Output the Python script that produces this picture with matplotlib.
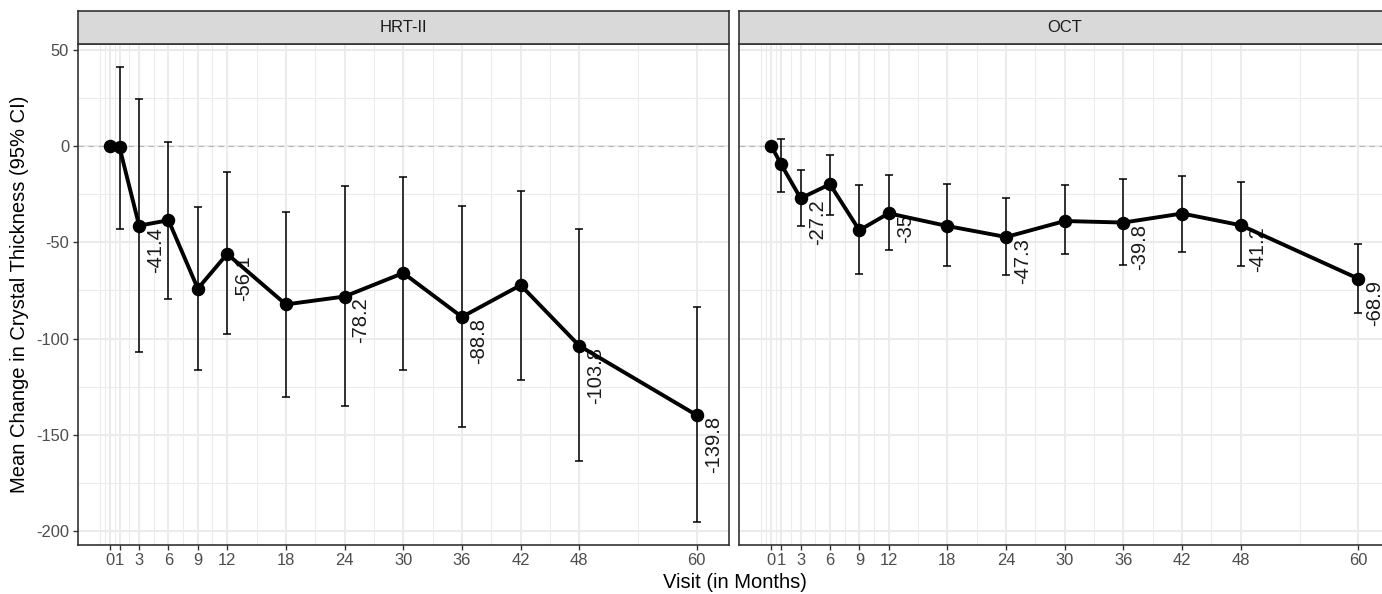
import matplotlib
matplotlib.use("Agg")
import matplotlib.pyplot as plt
import numpy as np

plt.rcParams['font.family'] = ['Liberation Sans', 'DejaVu Sans']
plt.rcParams['axes.unicode_minus'] = False

# Visits (months) and mean change with 95% CI per device
months = [0, 1, 3, 6, 9, 12, 18, 24, 30, 36, 42, 48, 60]
label_months = [3, 12, 24, 36, 48, 60]

hrt_mean = [0, -0.8, -41.4, -38.6, -74.1, -56.1, -82.3, -78.2, -66.0, -88.8, -72.3, -103.8, -139.8]
hrt_lower = [0, -42.9, -107.1, -79.7, -116.2, -97.9, -130.4, -134.8, -116.2, -145.7, -121.7, -163.5, -195.4]
hrt_upper = [0, 41.1, 24.6, 2.1, -31.7, -13.5, -34.3, -20.9, -16.1, -31.0, -23.3, -43.0, -83.7]

oct_mean = [0, -9.5, -27.2, -19.9, -43.8, -35.0, -41.6, -47.3, -39.0, -39.8, -35.1, -41.2, -68.9]
oct_lower = [0, -23.9, -41.7, -35.7, -66.3, -54.2, -62.5, -67.2, -56.3, -62.0, -55.1, -62.5, -86.6]
oct_upper = [0, 3.8, -12.6, -4.8, -20.4, -15.2, -19.6, -27.3, -20.4, -17.0, -15.6, -18.7, -50.7]

panels = [("HRT-II", hrt_mean, hrt_lower, hrt_upper),
          ("OCT", oct_mean, oct_lower, oct_upper)]

y_major = list(range(-200, 51, 50))


def minor_breaks(b, lo, hi):
    # midpoints between breaks, extended one step past each end (ggplot style)
    b = list(b)
    if lo < b[0]:
        b = [b[0] - (b[1] - b[0])] + b
    if hi > b[-1]:
        b = b + [b[-1] + (b[-1] - b[-2])]
    out = []
    for a, c in zip(b[:-1], b[1:]):
        out += [a, (a + c) / 2, c]
    out = sorted(set(out))
    return [v for v in out if lo <= v <= hi]


W, H = 1382, 594
xlim = (-3.3, 63.3)
ylim = (-207.2, 52.9)
panel_left = [77.5, 739]
panel_w = 651.5
panel_top, panel_bot = 44, 545
strip_h = 33.4

fig = plt.figure(figsize=(W / 100, H / 100), dpi=100)

for i, (name, mean, lower, upper) in enumerate(panels):
    x0 = panel_left[i]
    ax = fig.add_axes([x0 / W, (H - panel_bot) / H, panel_w / W, (panel_bot - panel_top) / H])
    ax.set_xlim(*xlim)
    ax.set_ylim(*ylim)
    ax.set_xticks(months)
    ax.set_xticklabels([str(m) for m in months])
    ax.set_yticks(y_major)
    ax.set_xticks(minor_breaks(months, *xlim), minor=True)
    ax.set_yticks(minor_breaks(y_major, *ylim), minor=True)
    ax.grid(which='major', color='#EBEBEB', lw=1.5)
    ax.grid(which='minor', color='#EBEBEB', lw=0.75)
    ax.set_axisbelow(True)

    ax.axhline(0, color='#B5B5B5', lw=0.8, ls=(0, (5, 4)), zorder=1)

    m = np.array(mean)
    err = [m - np.array(lower), np.array(upper) - m]
    ax.errorbar(months, mean, yerr=err, fmt='none', ecolor='black',
                elinewidth=1.1, capsize=2.6, capthick=1.1, zorder=2)
    ax.plot(months, mean, color='black', lw=2.8, marker='o', ms=8.7, zorder=3)

    for mo, v in zip(months, mean):
        if mo in label_months:
            ax.annotate(f"{v:g}", (mo, v), xytext=(7, -1), textcoords='offset pixels',
                        rotation=90, ha='left', va='top', fontsize=14.5,
                        color='#1A1A1A', zorder=1.5)

    for s in ax.spines.values():
        s.set_color('#333333')
        s.set_linewidth(1.2)
    ax.tick_params(which='major', length=3.6, width=1.0, color='#333333',
                   labelsize=11.9, labelcolor='#4D4D4D', pad=2.5)
    ax.tick_params(which='minor', length=0)
    if i > 0:
        ax.tick_params(axis='y', left=False, labelleft=False)

    # facet strip
    sax = fig.add_axes([x0 / W, (H - panel_top) / H, panel_w / W, strip_h / H])
    sax.set_facecolor('#D9D9D9')
    sax.set_xticks([])
    sax.set_yticks([])
    for s in sax.spines.values():
        s.set_color('#333333')
        s.set_linewidth(1.2)
    sax.text(0.5, 0.5, name, ha='center', va='center', fontsize=11.9,
             color='#1A1A1A', transform=sax.transAxes)

fig.text(734.5 / W, (H - 573) / H, "Visit (in Months)", ha='center', va='top', fontsize=14.5)
fig.text(20 / W, (H - (panel_top + panel_bot) / 2) / H, "Mean Change in Crystal Thickness (95% CI)",
         ha='center', va='center', rotation=90, fontsize=14.5)

fig.savefig("out.png", dpi=100)
